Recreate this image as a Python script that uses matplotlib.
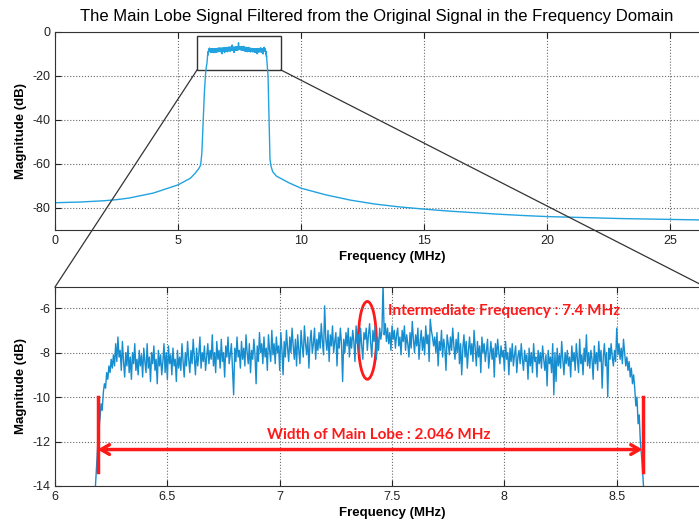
import numpy as np
import matplotlib
matplotlib.use("Agg")
import matplotlib.pyplot as plt
from matplotlib.lines import Line2D
from matplotlib.patches import Ellipse, Rectangle
from matplotlib.ticker import FuncFormatter

plt.rcParams['font.family'] = ['Liberation Sans', 'DejaVu Sans']
plt.rcParams['axes.unicode_minus'] = False

# skirts of the spectrum
left_f = [0, 1, 2, 2.5, 3, 4, 5, 5.5, 5.7, 5.85, 5.92, 5.97, 6.02, 6.07, 6.12, 6.15]
left_db = [-77.6, -77.3, -76.7, -76.2, -75.5, -73.2, -69.5, -66.5, -64.2, -62.0,
           -60.5, -55.0, -42.0, -28.0, -19.0, -16.0]
right_f = [8.66, 8.70, 8.74, 8.78, 8.85, 9.0, 9.5, 10, 11, 12, 13, 14, 15, 16, 17,
           18, 19, 20, 21, 22, 23, 24, 25, 26, 27]
right_db = [-20, -40, -58, -61, -63.5, -65.5, -68.5, -71, -74, -76.4, -78.2, -79.5,
            -80.5, -81.4, -82.1, -82.8, -83.4, -83.9, -84.2, -84.5, -84.8, -85.0,
            -85.2, -85.4, -85.5]

# main lobe, 6.180 .. 8.620 MHz in 0.005 MHz steps
lobe_db = [
    -14.0, -13.1, -12.2, -11.5, -11.0, -10.3, -10.6, -9.8, -9.4, -9.6, -8.9, -9.2, -8.6, -8.9, -8.3, -8.7, -8.1, -8.6, -7.6, -8.4,
    -7.3, -8.2, -7.9, -8.8, -7.5, -8.4, -9.1, -8.0, -8.6, -7.7, -8.9, -8.2, -9.2, -8.0, -8.5, -7.6, -8.8, -8.3, -9.0, -7.9,
    -8.6, -8.1, -9.1, -7.8, -8.4, -8.9, -7.6, -8.7, -8.2, -9.3, -8.0, -8.5, -7.7, -8.8, -8.3, -9.4, -7.9, -8.6, -8.1, -9.0,
    -8.4, -7.6, -8.9, -8.0, -9.2, -7.7, -8.5, -8.1, -9.0, -7.8, -8.6, -8.3, -9.3, -7.9, -8.7, -8.2, -8.8, -7.6, -8.4, -9.1,
    -8.0, -8.6, -7.5, -8.3, -8.9, -7.9, -8.5, -7.4, -8.2, -9.0, -7.8, -8.6, -8.1, -7.3, -8.7, -8.0, -8.4, -7.7, -8.8, -8.2,
    -7.6, -8.5, -7.9, -8.3, -7.2, -8.6, -8.0, -8.9, -7.5, -8.3, -7.9, -8.7, -7.4, -8.4, -8.0, -9.1, -7.7, -8.2, -7.3, -8.5,
    -8.1, -7.6, -8.8, -9.9, -7.8, -8.4, -7.3, -8.2, -7.9, -8.7, -7.5, -8.3, -7.8, -8.6, -7.2, -8.0, -8.5, -7.6, -8.9, -7.9,
    -8.3, -7.4, -8.1, -9.4, -7.7, -8.4, -7.1, -8.0, -7.6, -8.5, -7.3, -8.2, -7.8, -8.8, -7.2, -7.9, -8.4, -7.0, -8.1, -7.6,
    -8.5, -7.3, -8.0, -7.7, -8.8, -7.1, -7.9, -9.0, -7.5, -8.2, -7.0, -7.8, -8.4, -7.3, -8.0, -6.9, -7.7, -8.3, -7.4, -8.6,
    -7.2, -7.9, -8.5, -7.0, -7.7, -8.2, -6.8, -7.6, -8.1, -7.3, -8.7, -7.5, -7.0, -8.0, -7.6, -6.9, -8.3, -7.4, -7.9, -7.1,
    -7.8, -6.7, -7.5, -8.1, -5.9, -7.4, -7.9, -7.0, -8.4, -7.2, -7.7, -6.8, -8.0, -7.5, -7.1, -8.6, -7.3, -7.8, -6.9, -7.6,
    -9.3, -7.4, -8.0, -7.1, -7.7, -6.9, -8.2, -7.3, -7.8, -7.0, -7.5, -8.4, -6.8, -7.6, -7.2, -8.0, -6.9, -7.7, -8.3, -7.1,
    -7.4, -6.9, -7.9, -7.2, -6.7, -7.6, -8.2, -7.0, -7.5, -6.8, -8.3, -7.3, -7.9, -6.9, -7.4, -7.0, -4.9, -7.2, -6.7, -7.5,
    -6.9, -7.6, -7.1, -7.9, -6.8, -7.4, -7.0, -7.8, -7.2, -6.9, -7.7, -7.3, -8.1, -7.0, -7.5, -6.8, -7.9, -7.2, -7.6, -8.2,
    -7.1, -7.8, -6.6, -7.4, -8.0, -7.2, -7.7, -6.9, -8.3, -7.5, -7.0, -7.9, -7.3, -8.1, -6.8, -7.6, -7.2, -8.4, -6.5, -7.0,
    -7.3, -7.7, -7.3, -8.0, -7.1, -8.6, -7.5, -7.9, -7.0, -8.2, -7.4, -7.8, -8.8, -7.2, -7.6, -8.1, -7.3, -7.9, -6.9, -7.7,
    -8.3, -7.4, -8.0, -7.1, -8.5, -7.6, -9.0, -7.8, -7.2, -8.2, -7.5, -8.7, -7.9, -7.3, -8.1, -7.6, -8.4, -7.0, -7.8, -8.6,
    -7.5, -8.2, -7.7, -8.9, -7.3, -8.0, -7.6, -8.4, -7.9, -7.4, -8.7, -8.1, -7.5, -8.3, -7.8, -9.1, -7.6, -8.2, -7.4, -8.0,
    -8.5, -7.7, -8.2, -7.9, -8.8, -7.5, -8.3, -8.0, -9.0, -7.8, -8.4, -7.6, -8.6, -8.1, -7.7, -8.9, -8.2, -7.9, -8.5, -7.6,
    -8.3, -8.8, -7.9, -8.4, -8.1, -9.2, -7.8, -8.6, -8.0, -8.9, -7.6, -8.4, -8.2, -9.1, -7.9, -8.5, -8.0, -8.7, -7.7, -8.3,
    -8.8, -8.1, -9.5, -7.9, -8.5, -8.2, -8.9, -7.6, -9.9, -8.0, -9.3, -7.8, -8.6, -8.1, -8.7, -7.5, -8.3, -9.0, -8.0, -8.5,
    -7.9, -8.6, -8.2, -9.1, -7.7, -8.4, -8.0, -8.8, -7.6, -8.3, -8.9, -7.4, -8.5, -8.1, -9.0, -7.8, -8.4, -7.2, -8.6, -8.0,
    -8.7, -7.9, -8.3, -9.2, -7.7, -8.5, -8.0, -8.8, -7.5, -8.4, -7.9, -9.6, -8.2, -7.6, -8.6, -8.0, -10.0, -7.8, -8.3, -7.6,
    -8.2, -8.6, -7.9, -8.4, -6.9, -8.1, -7.6, -8.3, -7.8, -8.5, -7.4, -8.0, -8.6, -8.2, -8.8, -8.4, -9.1, -8.7, -9.4, -9.0,
    -9.6, -10.4, -10.0, -11.2, -10.8, -12.0, -12.6, -13.3, -14.2,
]
lobe_f = np.linspace(6.18, 8.62, len(lobe_db))

W, H = 699, 524

fig = plt.figure(figsize=(W / 100, H / 100), dpi=100)

def px_box(x0, y0, x1, y1):
    # pixel box (left, top, right, bottom) -> figure fraction
    return [x0 / W, 1 - y1 / H, (x1 - x0) / W, (y1 - y0) / H]

def style(ax):
    ax.grid(True, linestyle=':', color='#6a6a6a', linewidth=0.8)
    ax.tick_params(direction='in', top=True, right=True, length=4,
                   labelsize=9, colors='#222222')
    for s in ax.spines.values():
        s.set_color('#333333')
    ax.xaxis.set_major_formatter(FuncFormatter(lambda v, p: '%g' % v))

# upper plot: whole spectrum
ax1 = fig.add_axes(px_box(55, 32, 730, 230))
f_all = np.concatenate([left_f, lobe_f, right_f])
db_all = np.concatenate([left_db, lobe_db, right_db])
ax1.plot(f_all, db_all, color='#22a3df', lw=1)
ax1.set_xlim(0, (730 - 55) / 24.6)
ax1.set_ylim(-90, 0)
ax1.set_xticks([0, 5, 10, 15, 20, 25])
ax1.set_yticks([-80, -60, -40, -20, 0])
style(ax1)
ax1.set_xlabel('Frequency (MHz)', fontsize=9.5, fontweight='bold', labelpad=3)
ax1.set_ylabel('Magnitude (dB)', fontsize=9.5, fontweight='bold')
fig.text(377 / W, 1 - 17 / H,
         'The Main Lobe Signal Filtered from the Original Signal in the Frequency Domain',
         fontsize=12, ha='center', va='center')
ax1.add_patch(Rectangle((5.77, -17.3), 3.42, 15.5, fill=False, ec='#333333', lw=1))

# lower plot: zoom on the main lobe
ax2 = fig.add_axes(px_box(55, 287, 730, 486))
ax2.plot(lobe_f, lobe_db, color='#168dcf', lw=1.0)
ax2.set_xlim(6, 6 + (730 - 55) / 224.7)
ax2.set_ylim(-14, -5.05)
ax2.set_xticks([6, 6.5, 7, 7.5, 8, 8.5])
ax2.set_yticks([-14, -12, -10, -8, -6])
style(ax2)
ax2.set_xlabel('Frequency (MHz)', fontsize=9.5, fontweight='bold', labelpad=3)
ax2.set_ylabel('Magnitude (dB)', fontsize=9.5, fontweight='bold')

red = '#ff1a1a'
ax2.add_patch(Ellipse((7.39, -7.45), 0.08, 3.5, fill=False, ec=red, lw=2))
ax2.text(7.48, -6.13, 'Intermediate Frequency : 7.4 MHz', color=red,
         fontsize=11, fontweight='bold', family=['Lato', 'DejaVu Sans'], va='center')
ax2.text(7.44, -11.69, 'Width of Main Lobe : 2.046 MHz', color=red,
         fontsize=11, fontweight='bold', family=['Lato', 'DejaVu Sans'],
         va='center', ha='center')
ax2.plot([6.19, 6.19], [-10, -13.35], color=red, lw=2.5)
ax2.plot([8.615, 8.615], [-10, -13.35], color=red, lw=2.5)
ax2.annotate('', xy=(6.19, -12.36), xytext=(8.615, -12.36),
             arrowprops=dict(arrowstyle='<->,head_length=0.6,head_width=0.35',
                             color=red, lw=2.5, shrinkA=0, shrinkB=0))

# connector lines from the box to the zoomed plot
for (xa, ya), (xb, yb) in [((197, 70), (55, 287)), ((281, 70), (730, 299.5))]:
    fig.add_artist(Line2D([xa / W, xb / W], [1 - ya / H, 1 - yb / H],
                          transform=fig.transFigure, color='#333333', lw=0.9))

fig.savefig('out.png', dpi=100)
